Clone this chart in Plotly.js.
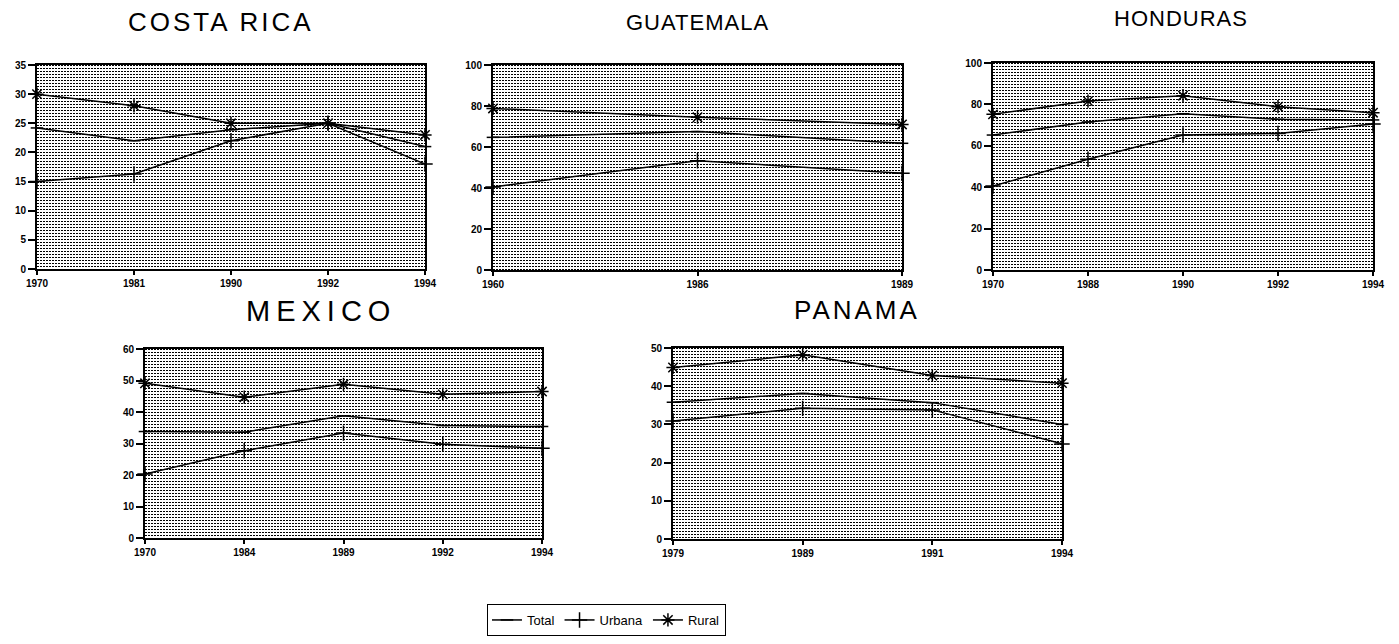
<!DOCTYPE html>
<html>
<head>
<meta charset="utf-8">
<script src="https://cdn.plot.ly/plotly-3.0.1.min.js"></script>
<style>html,body{margin:0;padding:0;background:#fff}#chart{width:1399px;height:644px}</style>
</head>
<body>
<div id="chart"></div>
<script>
// ---- Data ----
const countries = ['COSTA RICA','GUATEMALA','HONDURAS','MEXICO','PANAMA'];

const crYears  = ['1970','1981','1990','1992','1994'];
const crTotal  = [24.2, 22.0, 23.9, 25.0, 21.0];
const crUrbana = [15.0, 16.3, 22.0, 25.0, 18.0];
const crRural  = [30.0, 28.0, 25.0, 25.0, 23.0];

const guYears  = ['1960','1986','1989'];
const guTotal  = [64.7, 67.5, 61.8];
const guUrbana = [40.5, 53.3, 47.2];
const guRural  = [78.8, 74.5, 71.0];

const hoYears  = ['1970','1988','1990','1992','1994'];
const hoTotal  = [65.2, 71.5, 75.5, 72.8, 72.5];
const hoUrbana = [40.6, 53.5, 65.2, 66.0, 70.5];
const hoRural  = [75.2, 81.6, 84.2, 78.9, 76.0];

const mxYears  = ['1970','1984','1989','1992','1994'];
const mxTotal  = [33.8, 33.6, 38.8, 35.7, 35.4];
const mxUrbana = [20.3, 27.7, 33.3, 29.8, 28.5];
const mxRural  = [49.1, 44.7, 48.8, 45.6, 46.5];

const paYears  = ['1979','1989','1991','1994'];
const paTotal  = [35.8, 38.1, 35.7, 30.0];
const paUrbana = [30.9, 34.2, 33.8, 24.9];
const paRural  = [44.9, 48.2, 42.8, 40.8];

const yMax   = [35, 100, 100, 60, 50];
const yDtick = [5, 20, 20, 10, 10];
const seriesNames = ['Total','Urbana','Rural'];

// ---- Layout geometry (pixels) ----
const W = 1399, H = 644;
const boxes = [
  {x0:37,  x1:425,  y0:65,  y1:269},
  {x0:493, x1:902,  y0:65,  y1:270},
  {x0:993, x1:1373, y0:63,  y1:270},
  {x0:145, x1:542,  y0:349, y1:538},
  {x0:673, x1:1062, y0:348, y1:539}
];
const titlePos = [
  {x:221, y:22, size:26, sp:3},
  {x:697, y:22, size:22, sp:1},
  {x:1181, y:18, size:22, sp:1},
  {x:321, y:311, size:29, sp:6},
  {x:857, y:310, size:26, sp:3}
];

const allData = [
  [crYears, crTotal, crUrbana, crRural],
  [guYears, guTotal, guUrbana, guRural],
  [hoYears, hoTotal, hoUrbana, hoRural],
  [mxYears, mxTotal, mxUrbana, mxRural],
  [paYears, paTotal, paUrbana, paRural]
];

const markerSyms = ['line-ew','cross-thin','asterisk'];
const markerSizes = [9, 11, 11];

function dotSvg(w, h) {
  const svg = "<svg xmlns='http://www.w3.org/2000/svg' width='" + w + "' height='" + h + "' shape-rendering='crispEdges'>" +
    "<defs><pattern id='p' width='3' height='3' patternUnits='userSpaceOnUse'>" +
    "<rect x='0' y='0' width='2' height='1' fill='#000'/></pattern></defs>" +
    "<rect width='100%' height='100%' fill='#fff'/>" +
    "<rect width='100%' height='100%' fill='url(#p)'/></svg>";
  return 'data:image/svg+xml;charset=utf-8,' + encodeURIComponent(svg);
}

const traces = [];
const layout = {
  width: W, height: H,
  margin: {l:0, r:0, t:0, b:0},
  paper_bgcolor: '#fff',
  plot_bgcolor: 'rgba(0,0,0,0)',
  showlegend: true,
  legend: {
    orientation: 'h', x: 0.4335, xanchor: 'center', y: 1 - 604/H, yanchor: 'top',
    bordercolor: '#000', borderwidth: 1, bgcolor: '#fff',
    font: {family: 'Liberation Sans, Arial, sans-serif', size: 13, color: '#000'},
    itemwidth: 30, tracegroupgap: 0
  },
  annotations: [],
  images: []
};

boxes.forEach((b, i) => {
  const n = i + 1;
  const xa = n === 1 ? 'xaxis' : 'xaxis' + n;
  const ya = n === 1 ? 'yaxis' : 'yaxis' + n;
  const xr = n === 1 ? 'x' : 'x' + n;
  const yr = n === 1 ? 'y' : 'y' + n;
  const d = allData[i];
  const cats = d[0];
  const axisCommon = {
    showline: true, linecolor: '#000', linewidth: 2, mirror: true,
    ticks: 'outside', ticklen: 6, tickwidth: 2, tickcolor: '#000',
    showgrid: false, zeroline: false, fixedrange: true,
    tickfont: {family: 'Liberation Sans, Arial, sans-serif', size: 10, color: '#000', weight: 'bold'}
  };
  layout[xa] = Object.assign({}, axisCommon, {
    domain: [b.x0 / W, b.x1 / W], anchor: yr,
    type: 'category', categoryorder: 'array', categoryarray: cats,
    range: [0, cats.length - 1], ticklen: 4
  });
  layout[ya] = Object.assign({}, axisCommon, {
    domain: [1 - b.y1 / H, 1 - b.y0 / H], anchor: xr,
    range: [0, yMax[i]], dtick: yDtick[i], tick0: 0, ticklen: 7
  });
  for (let s = 0; s < 3; s++) {
    traces.push({
      type: 'scatter', mode: 'lines+markers',
      x: cats, y: d[s + 1], xaxis: xr, yaxis: yr,
      name: seriesNames[s], legendgroup: seriesNames[s], showlegend: i === 0,
      cliponaxis: false,
      line: {color: '#000', width: 1.5},
      marker: {symbol: markerSyms[s], size: markerSizes[s], color: '#000', line: {color: '#000', width: 1.5}}
    });
  }
  layout.images.push({
    source: dotSvg(b.x1 - b.x0, b.y1 - b.y0),
    xref: 'paper', yref: 'paper',
    x: b.x0 / W, y: 1 - b.y0 / H,
    sizex: (b.x1 - b.x0) / W, sizey: (b.y1 - b.y0) / H,
    xanchor: 'left', yanchor: 'top', sizing: 'stretch', layer: 'below'
  });
  const t = titlePos[i];
  layout.annotations.push({
    text: '<span style="letter-spacing:' + t.sp + 'px">' + countries[i] + '</span>',
    xref: 'paper', yref: 'paper', x: t.x / W, y: 1 - t.y / H,
    xanchor: 'center', yanchor: 'middle', showarrow: false,
    font: {family: 'Liberation Sans, Arial, sans-serif', size: t.size, color: '#000', weight: 500}
  });
});

Plotly.newPlot('chart', traces, layout, {displayModeBar: false, staticPlot: true});
</script>
</body>
</html>
